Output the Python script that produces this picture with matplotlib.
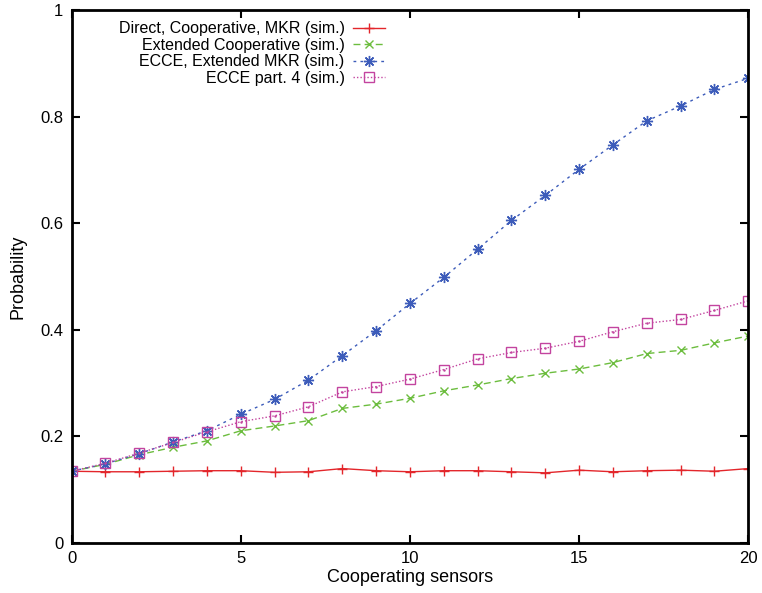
import numpy as np
import matplotlib.pyplot as plt

plt.rcParams['font.family'] = ['Liberation Sans', 'DejaVu Sans']

# cooperating sensors on the x axis
sensors = np.arange(0, 21)

direct = [0.134, 0.133, 0.133, 0.134, 0.135, 0.135, 0.132, 0.133, 0.139, 0.135, 0.133,
          0.135, 0.135, 0.133, 0.131, 0.136, 0.133, 0.135, 0.136, 0.134, 0.139]
ext_coop = [0.134, 0.147, 0.165, 0.179, 0.191, 0.210, 0.219, 0.229, 0.252, 0.260, 0.271,
            0.285, 0.296, 0.308, 0.318, 0.326, 0.338, 0.355, 0.361, 0.375, 0.388]
ecce_mkr = [0.134, 0.148, 0.167, 0.189, 0.210, 0.241, 0.269, 0.305, 0.351, 0.398, 0.449,
            0.498, 0.551, 0.605, 0.652, 0.701, 0.747, 0.792, 0.820, 0.851, 0.872]
ecce_p4 = [0.134, 0.149, 0.168, 0.188, 0.208, 0.227, 0.238, 0.255, 0.283, 0.293, 0.307,
           0.325, 0.345, 0.357, 0.365, 0.378, 0.396, 0.412, 0.419, 0.436, 0.454]

labels = ['Direct, Cooperative, MKR (sim.)', 'Extended Cooperative (sim.)',
          'ECCE, Extended MKR (sim.)', 'ECCE part. 4 (sim.)']
palette = ['#e3262b', '#6cbd3e', '#3d5cba', '#c3449f']

fig = plt.figure(figsize=(7.62, 5.93), dpi=100)
ax = fig.add_axes([0.094, 0.085, 0.888, 0.898])

ax.plot(sensors, direct, color=palette[0], lw=1, ls='-', marker='+', ms=7, mew=1,
        label=labels[0])
ax.plot(sensors, ext_coop, color=palette[1], lw=1, ls=(0, (5, 3)), marker='x', ms=6, mew=1,
        label=labels[1])
ax.plot(sensors, ecce_mkr, color=palette[2], lw=1, ls=(0, (2, 3)), marker=(8, 2, 0), ms=8, mew=1,
        label=labels[2])
ax.plot(sensors, ecce_p4, color=palette[3], lw=1, ls=(0, (1, 1.5)), marker='s', ms=6.5, mew=1,
        mfc='none', label=labels[3])
# little dot in the middle of the squares
ax.plot(sensors, ecce_p4, ls='none', marker='.', ms=1.5, color=palette[3])

ax.set_xlim(0, 20)
ax.set_ylim(0, 1)
ax.set_xticks([0, 5, 10, 15, 20])
ax.set_yticks([0, 0.2, 0.4, 0.6, 0.8, 1])
ax.set_yticklabels(['0', '0.2', '0.4', '0.6', '0.8', '1'])
ax.tick_params(direction='in', top=True, right=True, length=6, width=1.5, labelsize=12, pad=6)
for s in ax.spines.values():
    s.set_linewidth(2)

ax.set_xlabel('Cooperating sensors', fontsize=13, labelpad=2)
ax.set_ylabel('Probability', fontsize=13, labelpad=10)

leg = ax.legend(loc='upper right', bbox_to_anchor=(0.479, 1.0), frameon=False, markerfirst=False,
                fontsize=11.5, handlelength=2.0, labelspacing=0.1, handletextpad=0.5,
                borderaxespad=0.3)
for t in leg.get_texts():
    t.set_ha('right')
leg._legend_box.align = 'right'

fig.savefig('out.png', dpi=100)
